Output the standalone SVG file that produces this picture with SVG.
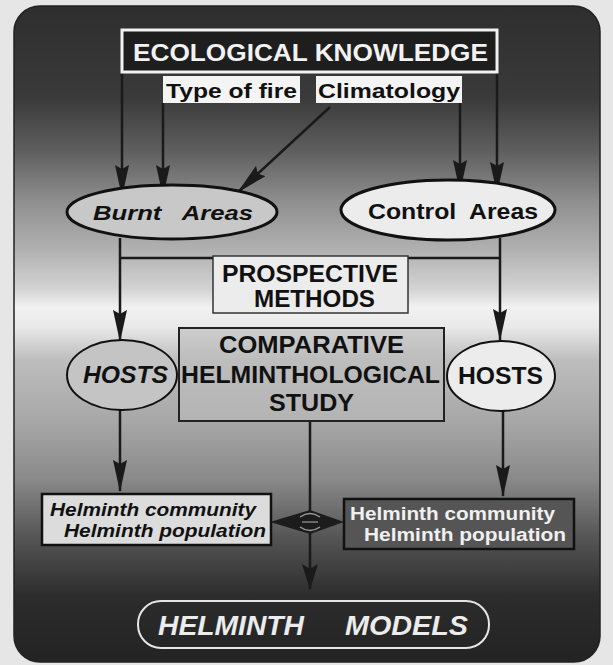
<svg xmlns="http://www.w3.org/2000/svg" width="613" height="665" viewBox="0 0 613 665">
<defs>
<linearGradient id="bg" x1="0" y1="6" x2="0" y2="662" gradientUnits="userSpaceOnUse">
<stop offset="0" stop-color="#2e2e2e"/>
<stop offset="0.14" stop-color="#3a3a3a"/>
<stop offset="0.22" stop-color="#5e5e5e"/>
<stop offset="0.30" stop-color="#909090"/>
<stop offset="0.37" stop-color="#b0b0b0"/>
<stop offset="0.43" stop-color="#d2d2d2"/>
<stop offset="0.46" stop-color="#f2f2f2"/>
<stop offset="0.49" stop-color="#e8e8e8"/>
<stop offset="0.54" stop-color="#bdbdbd"/>
<stop offset="0.63" stop-color="#a8a8a8"/>
<stop offset="0.72" stop-color="#8a8a8a"/>
<stop offset="0.81" stop-color="#555"/>
<stop offset="0.90" stop-color="#2c2c2c"/>
<stop offset="1" stop-color="#232323"/>
</linearGradient>
<marker id="ah" markerUnits="userSpaceOnUse" markerWidth="32" markerHeight="14" refX="31" refY="7" orient="auto" viewBox="0 0 32 14">
<path d="M0,0 L32,7 L0,14 L4,7 Z" fill="#1a1a1a"/>
</marker>
<marker id="ah2" markerUnits="userSpaceOnUse" markerWidth="26" markerHeight="16" refX="25" refY="8" orient="auto" viewBox="0 0 26 16">
<path d="M0,0 L26,8 L0,16 L5,8 Z" fill="#1a1a1a"/>
</marker>
</defs>
<style>
.t{font-family:"Liberation Sans",Arial,sans-serif;font-weight:bold}
.ln{stroke:#1a1a1a;stroke-width:2.5;fill:none}
</style>
<rect x="0" y="0" width="613" height="665" fill="#e6e6e6"/>
<rect x="14" y="6" width="586" height="656" rx="26" fill="url(#bg)" stroke="#222" stroke-width="1.5"/>

<g id="connectors">
<line class="ln" x1="122" y1="72" x2="122" y2="196" marker-end="url(#ah)"/>
<line class="ln" x1="163" y1="103" x2="163" y2="196" marker-end="url(#ah)"/>
<line class="ln" x1="460" y1="103" x2="460" y2="191" marker-end="url(#ah)"/>
<line class="ln" x1="497" y1="72" x2="497" y2="193" marker-end="url(#ah)"/>
<line class="ln" x1="330" y1="107" x2="238" y2="192" marker-end="url(#ah)"/>
<line class="ln" x1="120" y1="238" x2="120" y2="341" marker-end="url(#ah)"/>
<line class="ln" x1="500" y1="238" x2="500" y2="340" marker-end="url(#ah)"/>
<line class="ln" x1="120" y1="258" x2="500" y2="258"/>
<line class="ln" x1="120" y1="409" x2="120" y2="491" marker-end="url(#ah)"/>
<line class="ln" x1="503" y1="411" x2="503" y2="496" marker-end="url(#ah)"/>
<line class="ln" x1="310" y1="421" x2="310" y2="589" marker-end="url(#ah2)"/>
<path d="M270,522 L310,510 L344,522 L310,534 Z" fill="#1c1c1c"/>
<path d="M300,517 Q310,510 320,517 M300,527 Q310,534 320,527" stroke="#9a9a9a" stroke-width="1.5" fill="none"/>
<line x1="302" y1="522" x2="318" y2="522" stroke="#9a9a9a" stroke-width="1.2"/>
</g>

<g id="ecological">
<rect x="122" y="30" width="375" height="42" fill="#1e1e1e" stroke="#f2f2f2" stroke-width="3"/>
<text class="t" x="133" y="61" font-size="24" fill="#f2f2f2" textLength="355" lengthAdjust="spacingAndGlyphs">ECOLOGICAL  KNOWLEDGE</text>
</g>
<g id="typefire">
<rect x="163" y="76" width="137" height="27" fill="#f4f4f4"/>
<text class="t" x="166" y="98" font-size="21" fill="#111" textLength="131" lengthAdjust="spacingAndGlyphs">Type of fire</text>
</g>
<g id="climatology">
<rect x="316" y="76" width="146" height="27" fill="#f4f4f4"/>
<text class="t" x="318" y="98" font-size="21" fill="#111" textLength="142" lengthAdjust="spacingAndGlyphs">Climatology</text>
</g>

<g id="burnt">
<ellipse cx="172" cy="212" rx="105" ry="27" fill="#c8c8c8" stroke="#111" stroke-width="3"/>
<text class="t" x="93" y="220" font-size="21" font-style="italic" fill="#111" textLength="160" lengthAdjust="spacingAndGlyphs" xml:space="preserve">Burnt   Areas</text>
</g>
<g id="control">
<ellipse cx="448" cy="210" rx="107" ry="30" fill="#ececec" stroke="#111" stroke-width="3"/>
<text class="t" x="368" y="219" font-size="22" fill="#111" textLength="170" lengthAdjust="spacingAndGlyphs" xml:space="preserve">Control  Areas</text>
</g>

<g id="prospective">
<rect x="213" y="256" width="195" height="57" fill="#ececec" stroke="#333" stroke-width="1.5"/>
<text class="t" x="222" y="282" font-size="23" fill="#111" textLength="176" lengthAdjust="spacingAndGlyphs">PROSPECTIVE</text>
<text class="t" x="254" y="307" font-size="23" fill="#111" textLength="121" lengthAdjust="spacingAndGlyphs">METHODS</text>
</g>

<g id="comparative">
<rect x="179" y="328" width="265" height="93" fill="#bdbdbd" fill-opacity="0.6" stroke="#222" stroke-width="2"/>
<text class="t" x="219" y="353" font-size="23" fill="#111" textLength="185" lengthAdjust="spacingAndGlyphs">COMPARATIVE</text>
<text class="t" x="181" y="383" font-size="23" fill="#111" textLength="259" lengthAdjust="spacingAndGlyphs">HELMINTHOLOGICAL</text>
<text class="t" x="269" y="411" font-size="23" fill="#111" textLength="85" lengthAdjust="spacingAndGlyphs">STUDY</text>
</g>

<g id="hosts-left">
<ellipse cx="122" cy="375" rx="55" ry="35" fill="#c4c4c4" stroke="#111" stroke-width="2"/>
<text class="t" x="83" y="383" font-size="23" font-style="italic" fill="#111" textLength="85" lengthAdjust="spacingAndGlyphs">HOSTS</text>
</g>
<g id="hosts-right">
<ellipse cx="501" cy="376" rx="54" ry="35" fill="#ececec" stroke="#111" stroke-width="2"/>
<text class="t" x="458" y="384" font-size="23" fill="#111" textLength="85" lengthAdjust="spacingAndGlyphs">HOSTS</text>
</g>

<g id="helminth-left">
<rect x="42" y="494" width="229" height="51" fill="#dcdcdc" stroke="#111" stroke-width="2.5"/>
<text class="t" x="50" y="516" font-size="18" font-style="italic" fill="#111" textLength="206" lengthAdjust="spacingAndGlyphs">Helminth community</text>
<text class="t" x="64" y="537" font-size="18" font-style="italic" fill="#111" textLength="202" lengthAdjust="spacingAndGlyphs">Helminth population</text>
</g>
<g id="helminth-right">
<rect x="344" y="499" width="230" height="50" fill="#555" stroke="#111" stroke-width="2.5"/>
<text class="t" x="350" y="520" font-size="18" fill="#f0f0f0" textLength="205" lengthAdjust="spacingAndGlyphs">Helminth community</text>
<text class="t" x="364" y="541" font-size="18" fill="#f0f0f0" textLength="202" lengthAdjust="spacingAndGlyphs">Helminth population</text>
</g>

<g id="models">
<rect x="138" y="601" width="351" height="47" rx="23" fill="none" stroke="#e6e6e6" stroke-width="2"/>
<text class="t" x="158" y="635" font-size="28" font-style="italic" fill="#ececec" textLength="146" lengthAdjust="spacingAndGlyphs">HELMINTH</text>
<text class="t" x="345" y="635" font-size="28" font-style="italic" fill="#ececec" textLength="123" lengthAdjust="spacingAndGlyphs">MODELS</text>
</g>
</svg>
